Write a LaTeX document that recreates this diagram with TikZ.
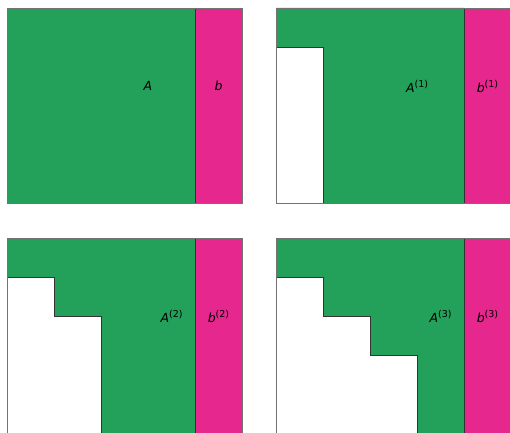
\documentclass[tikz,border=0pt]{standalone}
\usepackage{fontspec}
\setsansfont{DejaVu Sans}
\usepackage{xcolor}
\usepackage{tikz}

\definecolor{matgreen}{HTML}{23A05A}
\definecolor{vecpink}{HTML}{E6278E}

\newcommand{\lbl}[2]{\sffamily\itshape #1\raisebox{5pt}{\upshape\fontsize{9.5}{11}\selectfont #2}}

\begin{document}
\begin{tikzpicture}[x=47pt, y=39pt,
    matfill/.style={fill=matgreen, draw=black!80, line width=0.7pt},
    vecfill/.style={fill=vecpink, draw=black!80, line width=0.7pt},
    frame/.style={draw=black!55, line width=0.8pt},
    lab/.style={font=\fontsize{12.5}{14}\selectfont}]
   \clip (0,0) rectangle (510pt,432pt);

   % A and b
   \begin{scope}[shift={(7pt,229pt)}]
      \path[matfill] (0,0) rectangle (4,5);
      \path[vecfill] (4,0) rectangle (5,5);
      \draw[frame] (0,0) rectangle (5,5);
      \node[lab] (A0) at (3,3)   {\lbl{A}{}};
      \node[lab] (b0) at (4.5,3) {\lbl{b}{}};
   \end{scope}

   % first step
   \begin{scope}[shift={(276pt,229pt)}]
      \path[matfill] (0,5) -- (4,5) -- (4,0) -- (1,0) -- (1,4) -- (0,4) -- cycle;
      \path[vecfill] (4,0) rectangle (5,5);
      \draw[frame] (0,0) rectangle (5,5);
      \node[lab] (A1) at (3,3)   {\lbl{A}{(1)}};
      \node[lab] (b1) at (4.5,3) {\lbl{b}{(1)}};
   \end{scope}

   % second step
   \begin{scope}[shift={(7pt,-1pt)}]
      \path[matfill] (0,5) -- (4,5) -- (4,0) -- (2,0) -- (2,3) -- (1,3)
         -- (1,4) -- (0,4) -- cycle;
      \path[vecfill] (4,0) rectangle (5,5);
      \draw[frame] (0,0) rectangle (5,5);
      \node[lab] (A2) at (3.5,3) {\lbl{A}{(2)}};
      \node[lab] (b2) at (4.5,3) {\lbl{b}{(2)}};
   \end{scope}

   % third step
   \begin{scope}[shift={(276pt,-1pt)}]
      \path[matfill] (0,5) -- (4,5) -- (4,0) -- (3,0) -- (3,2) -- (2,2)
         -- (2,3) -- (1,3) -- (1,4) -- (0,4) -- cycle;
      \path[vecfill] (4,0) rectangle (5,5);
      \draw[frame] (0,0) rectangle (5,5);
      \node[lab] (A3) at (3.5,3) {\lbl{A}{(3)}};
      \node[lab] (b3) at (4.5,3) {\lbl{b}{(3)}};
   \end{scope}
\end{tikzpicture}
\end{document}
